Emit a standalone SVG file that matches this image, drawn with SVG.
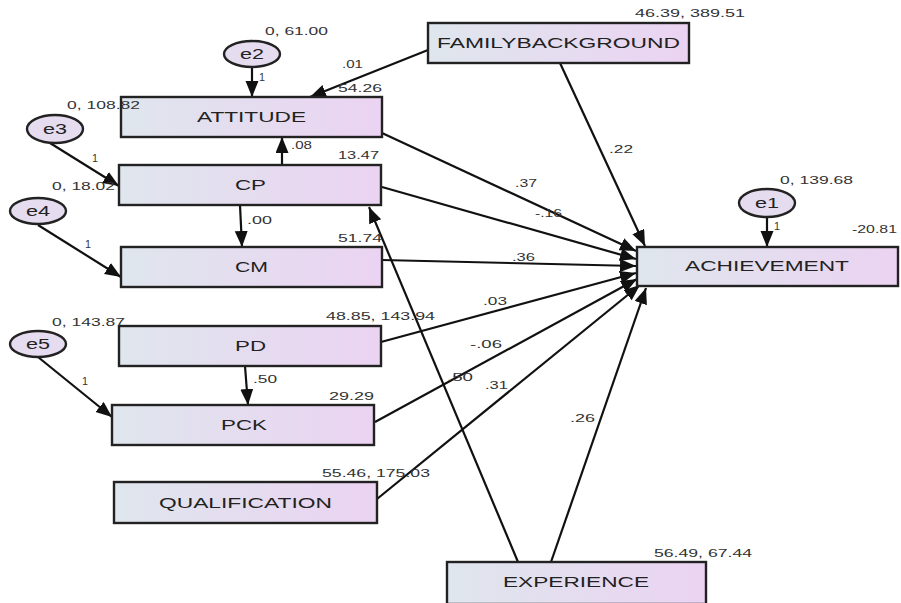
<svg xmlns="http://www.w3.org/2000/svg" width="901" height="603" viewBox="0 0 901 603">
<style>
.box{fill:url(#g);stroke:#222;stroke-width:2.4}
.err{fill:#e6dcf0;stroke:#222;stroke-width:2.4}
.lbl{font-family:"Liberation Sans",Arial,sans-serif;font-size:15px;fill:#222}
.num{font-family:"Liberation Sans",Arial,sans-serif;font-size:10.5px;fill:#333}
.el{font-family:"Liberation Sans",Arial,sans-serif;font-size:14px;fill:#222}
.c line{stroke:#111;stroke-width:2.2;marker-end:url(#a)}
</style>
<defs>
<linearGradient id="g" x1="0" y1="0" x2="1" y2="0">
<stop offset="0" stop-color="#dfe6ed"/>
<stop offset="1" stop-color="#ebd3f2"/>
</linearGradient>
<marker id="a" markerUnits="userSpaceOnUse" markerWidth="18" markerHeight="14" refX="16" refY="6.5" orient="auto">
<path d="M0,0 L16,6.5 L0,13 z" fill="#111"/>
</marker>
</defs>
<rect width="901" height="603" fill="#fff"/>
<g class="c" id="connectors">
<line x1="252" y1="68" x2="252" y2="97"/>
<line x1="428" y1="50" x2="310" y2="97"/>
<line x1="50" y1="143" x2="119" y2="186"/>
<line x1="282" y1="165" x2="282" y2="137"/>
<line x1="240" y1="205" x2="242" y2="247"/>
<line x1="38" y1="225" x2="121" y2="277"/>
<line x1="38" y1="357" x2="112" y2="417"/>
<line x1="245" y1="366" x2="248" y2="405"/>
<line x1="767" y1="217" x2="767" y2="247"/>
<line x1="560" y1="63" x2="645" y2="246"/>
<line x1="382" y1="133" x2="636" y2="251"/>
<line x1="382" y1="187" x2="636" y2="259"/>
<line x1="382" y1="260" x2="636" y2="266"/>
<line x1="381" y1="342" x2="636" y2="273"/>
<line x1="375" y1="422" x2="637" y2="279"/>
<line x1="377" y1="499" x2="640" y2="285"/>
<line x1="551" y1="562" x2="646" y2="288"/>
<line x1="518" y1="562" x2="369" y2="207"/>
</g>
<g id="e2"><ellipse class="err" cx="252" cy="54" rx="28" ry="13"/><text class="el" x="240" y="59" textLength="24" lengthAdjust="spacingAndGlyphs">e2</text></g>
<g id="e3"><ellipse class="err" cx="55" cy="129" rx="28" ry="14"/><text class="el" x="43" y="134" textLength="24" lengthAdjust="spacingAndGlyphs">e3</text></g>
<g id="e4"><ellipse class="err" cx="38" cy="211" rx="28" ry="13"/><text class="el" x="26" y="216" textLength="24" lengthAdjust="spacingAndGlyphs">e4</text></g>
<g id="e5"><ellipse class="err" cx="38" cy="344" rx="28" ry="13"/><text class="el" x="26" y="349" textLength="24" lengthAdjust="spacingAndGlyphs">e5</text></g>
<g id="e1"><ellipse class="err" cx="767" cy="203" rx="28" ry="14"/><text class="el" x="755" y="208" textLength="24" lengthAdjust="spacingAndGlyphs">e1</text></g>
<g id="attitude"><rect class="box" x="121" y="97" width="261" height="40"/><text class="lbl" x="197" y="122" textLength="109" lengthAdjust="spacingAndGlyphs">ATTITUDE</text></g>
<g id="cp"><rect class="box" x="119" y="165" width="262" height="40"/><text class="lbl" x="235" y="190" textLength="31" lengthAdjust="spacingAndGlyphs">CP</text></g>
<g id="cm"><rect class="box" x="121" y="247" width="261" height="40"/><text class="lbl" x="235" y="272" textLength="33" lengthAdjust="spacingAndGlyphs">CM</text></g>
<g id="pd"><rect class="box" x="119" y="326" width="262" height="40"/><text class="lbl" x="235" y="351" textLength="31" lengthAdjust="spacingAndGlyphs">PD</text></g>
<g id="pck"><rect class="box" x="112" y="405" width="262" height="40"/><text class="lbl" x="221" y="430" textLength="46" lengthAdjust="spacingAndGlyphs">PCK</text></g>
<g id="qualification"><rect class="box" x="114" y="482" width="263" height="41"/><text class="lbl" x="159" y="508" textLength="173" lengthAdjust="spacingAndGlyphs">QUALIFICATION</text></g>
<g id="experience"><rect class="box" x="447" y="562" width="259" height="42"/><text class="lbl" x="503" y="587" textLength="146" lengthAdjust="spacingAndGlyphs">EXPERIENCE</text></g>
<g id="familybackground"><rect class="box" x="428" y="23" width="261" height="40"/><text class="lbl" x="437" y="48" textLength="243" lengthAdjust="spacingAndGlyphs">FAMILYBACKGROUND</text></g>
<g id="achievement"><rect class="box" x="637" y="247" width="261" height="39"/><text class="lbl" x="685" y="271" textLength="164" lengthAdjust="spacingAndGlyphs">ACHIEVEMENT</text></g>
<g id="labels">
<text class="num" x="265" y="35" textLength="63" lengthAdjust="spacingAndGlyphs">0, 61.00</text>
<text class="num" x="342" y="68" textLength="21" lengthAdjust="spacingAndGlyphs">.01</text>
<text class="num" x="338" y="92" textLength="44" lengthAdjust="spacingAndGlyphs">54.26</text>
<text class="num" x="259" y="81" textLength="6" lengthAdjust="spacingAndGlyphs">1</text>
<text class="num" x="67" y="109" textLength="73" lengthAdjust="spacingAndGlyphs">0, 108.82</text>
<text class="num" x="291" y="149" textLength="21" lengthAdjust="spacingAndGlyphs">.08</text>
<text class="num" x="338" y="159" textLength="41" lengthAdjust="spacingAndGlyphs">13.47</text>
<text class="num" x="92" y="162" textLength="6" lengthAdjust="spacingAndGlyphs">1</text>
<text class="num" x="52" y="190" textLength="63" lengthAdjust="spacingAndGlyphs">0, 18.02</text>
<text class="num" x="247" y="224" textLength="25" lengthAdjust="spacingAndGlyphs">.00</text>
<text class="num" x="85" y="248" textLength="6" lengthAdjust="spacingAndGlyphs">1</text>
<text class="num" x="338" y="242" textLength="44" lengthAdjust="spacingAndGlyphs">51.74</text>
<text class="num" x="52" y="326" textLength="73" lengthAdjust="spacingAndGlyphs">0, 143.87</text>
<text class="num" x="326" y="320" textLength="109" lengthAdjust="spacingAndGlyphs">48.85, 143.94</text>
<text class="num" x="82" y="385" textLength="6" lengthAdjust="spacingAndGlyphs">1</text>
<text class="num" x="253" y="383" textLength="24" lengthAdjust="spacingAndGlyphs">.50</text>
<text class="num" x="329" y="400" textLength="45" lengthAdjust="spacingAndGlyphs">29.29</text>
<text class="num" x="322" y="477" textLength="108" lengthAdjust="spacingAndGlyphs">55.46, 175.03</text>
<text class="num" x="654" y="557" textLength="98" lengthAdjust="spacingAndGlyphs">56.49, 67.44</text>
<text class="num" x="635" y="17" textLength="110" lengthAdjust="spacingAndGlyphs">46.39, 389.51</text>
<text class="num" x="609" y="153" textLength="24" lengthAdjust="spacingAndGlyphs">.22</text>
<text class="num" x="515" y="187" textLength="22" lengthAdjust="spacingAndGlyphs">.37</text>
<text class="num" x="535" y="217" textLength="27" lengthAdjust="spacingAndGlyphs">-.16</text>
<text class="num" x="512" y="261" textLength="23" lengthAdjust="spacingAndGlyphs">.36</text>
<text class="num" x="483" y="305" textLength="24" lengthAdjust="spacingAndGlyphs">.03</text>
<text class="num" x="470" y="348" textLength="32" lengthAdjust="spacingAndGlyphs">-.06</text>
<text class="num" x="447" y="381" textLength="26" lengthAdjust="spacingAndGlyphs">.50</text>
<text class="num" x="485" y="389" textLength="23" lengthAdjust="spacingAndGlyphs">.31</text>
<text class="num" x="570" y="422" textLength="25" lengthAdjust="spacingAndGlyphs">.26</text>
<text class="num" x="780" y="184" textLength="73" lengthAdjust="spacingAndGlyphs">0, 139.68</text>
<text class="num" x="852" y="233" textLength="45" lengthAdjust="spacingAndGlyphs">-20.81</text>
<text class="num" x="774" y="230" textLength="6" lengthAdjust="spacingAndGlyphs">1</text>
</g>
</svg>
